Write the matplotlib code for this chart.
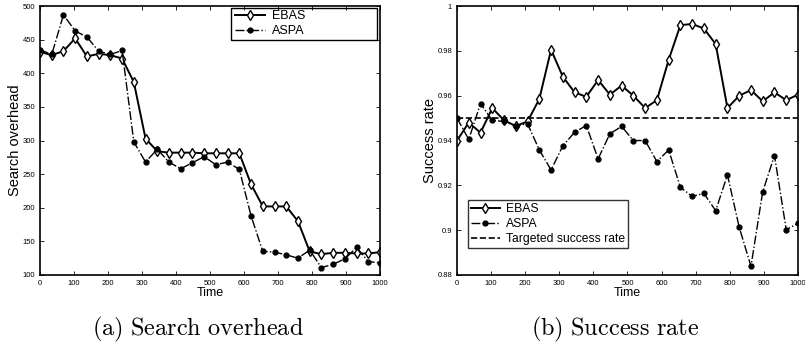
import numpy as np
import matplotlib.pyplot as plt
from matplotlib.patches import Rectangle

plt.rcParams['font.family'] = ['Liberation Sans', 'DejaVu Sans']
plt.rcParams['mathtext.fontset'] = 'cm'

# time axis (30 samples from 0 to 1000)
time = np.linspace(0, 1000, 30)

# (a) search overhead
ebas_overhead = [432, 427, 433, 452, 425, 429, 427, 422, 387, 303,
                 284, 282, 282, 282, 281, 281, 281, 281, 235, 202,
                 202, 202, 180, 135, 131, 133, 133, 132, 132, 134]
aspa_overhead = [435, 428, 487, 463, 454, 433, 428, 434, 298, 268,
                 287, 268, 258, 267, 276, 264, 268, 257, 188, 135,
                 134, 130, 125, 137, 111, 116, 124, 141, 120, 118]

# (b) success rate
ebas_success = [0.940, 0.948, 0.9435, 0.9545, 0.949, 0.9465, 0.9485, 0.9585, 0.9805, 0.9685,
                0.9615, 0.9595, 0.967, 0.9605, 0.9645, 0.960, 0.9545, 0.958, 0.976, 0.9915,
                0.992, 0.990, 0.983, 0.9545, 0.960, 0.9625, 0.9575, 0.9615, 0.958, 0.9605]
aspa_success = [0.950, 0.9405, 0.9565, 0.949, 0.9485, 0.9465, 0.9475, 0.9358, 0.9269, 0.9376,
                0.9437, 0.9467, 0.9318, 0.943, 0.9463, 0.940, 0.940, 0.9306, 0.9358, 0.9191,
                0.9151, 0.9164, 0.9087, 0.9247, 0.9013, 0.8839, 0.9172, 0.9333, 0.9002, 0.9031]
target_rate = 0.95


def style_axes(ax):
    ax.tick_params(direction='in', which='both', top=True, right=True,
                   labelsize=5.5, length=3, width=0.6)
    for s in ax.spines.values():
        s.set_linewidth(1.2)
    ax.set_xlim(0, 1000)
    ax.set_xticks(np.arange(0, 1001, 100))
    ax.set_xlabel('Time', fontsize=9, labelpad=0)


fig = plt.figure(figsize=(8.05, 3.47), dpi=100)
ax1 = fig.add_axes([0.0497, 0.2075, 0.4224, 0.775])
ax2 = fig.add_axes([0.5677, 0.2075, 0.4236, 0.775])

# left panel
ax1.plot(time, ebas_overhead, '-', color='black', lw=1.4, marker='d',
         ms=5, mfc='white', mec='black', mew=1.0, label='EBAS')
ax1.plot(time, aspa_overhead, '-.', color='black', lw=1.0, marker='o',
         ms=3.5, mfc='black', mec='black', label='ASPA')
ax1.set_ylim(100, 500)
ax1.set_yticks(np.arange(100, 501, 50))
ax1.set_ylabel('Search overhead', fontsize=10.5, labelpad=0.5)
style_axes(ax1)
# MATLAB-style legend: wide box with the entries pushed to the left
ax1.legend(loc='upper left', bbox_to_anchor=(0.565, 0.995), fontsize=9,
           frameon=False, borderpad=0.2, labelspacing=0.25,
           handlelength=2.4, handletextpad=0.6, borderaxespad=0.0)
ax1.add_patch(Rectangle((0.562, 0.8736), 0.429, 0.119, transform=ax1.transAxes,
                        fill=False, edgecolor='black', lw=1.0, zorder=5))

# right panel
ax2.plot(time, ebas_success, '-', color='black', lw=1.4, marker='d',
         ms=5, mfc='white', mec='black', mew=1.0, label='EBAS')
ax2.plot(time, aspa_success, '-.', color='black', lw=1.0, marker='o',
         ms=3.5, mfc='black', mec='black', label='ASPA')
ax2.plot([0, 1000], [target_rate, target_rate], '--', color='black', lw=1.2,
         label='Targeted success rate')
ax2.set_ylim(0.88, 1.0)
ax2.set_yticks([0.88, 0.9, 0.92, 0.94, 0.96, 0.98, 1.0])
ax2.set_yticklabels(['0.88', '0.9', '0.92', '0.94', '0.96', '0.98', '1'])
ax2.set_ylabel('Success rate', fontsize=10.5, labelpad=0.5)
style_axes(ax2)
leg2 = ax2.legend(loc='upper left', bbox_to_anchor=(0.032, 0.279), fontsize=8.7,
                  frameon=True, fancybox=False, edgecolor='black', borderpad=0.25,
                  labelspacing=0.25, handlelength=2.4, handletextpad=0.5,
                  borderaxespad=0.0)
leg2.get_frame().set_linewidth(1.0)

# captions
fig.text(0.246, 0.05, r'$\mathrm{(a)\ Search\ overhead}$', ha='center', va='center', fontsize=17.5)
fig.text(0.764, 0.05, r'$\mathrm{(b)\ Success\ rate}$', ha='center', va='center', fontsize=17.5)

fig.savefig('out.png', dpi=100)
